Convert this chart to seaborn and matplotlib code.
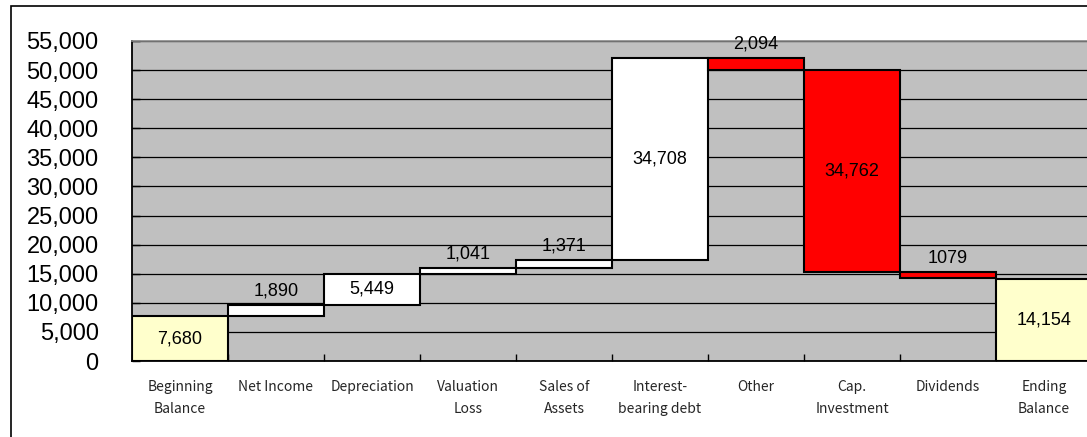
import matplotlib
matplotlib.use("Agg")
import matplotlib.pyplot as plt
from matplotlib.patches import Rectangle
from matplotlib.ticker import FuncFormatter, MultipleLocator
import numpy as np
import pandas as pd
import seaborn as sns

# Cash flow bridge items
categories = ["Beginning\nBalance", "Net Income", "Depreciation", "Valuation\nLoss",
              "Sales of\nAssets", "Interest-\nbearing debt", "Other", "Cap.\nInvestment",
              "Dividends", "Ending\nBalance"]
# signed changes; totals are the first and last entries
changes = [7680, 1890, 5449, 1041, 1371, 34708, -2094, -34762, -1079, 14154]
kinds = ["total", "up", "up", "up", "up", "up", "down", "down", "down", "total"]
value_formats = [",", ",", ",", ",", ",", ",", ",", ",", "", ","]
label_inside = [True, False, True, False, False, True, False, True, False, True]
y_ticks = list(range(0, 55001, 5000))

kind_colors = {"total": "#FFFFCC", "up": "#FFFFFF", "down": "#FF0000"}

# running position of each bar
bottoms, tops = [], []
level = 0
for v, k in zip(changes, kinds):
    if k == "total":
        b, t = 0, v
        level = v
    else:
        b, t = level, level + v
        level = t
    bottoms.append(min(b, t))
    tops.append(max(b, t))

df = pd.DataFrame({"item": categories, "top": tops})

sns.set_theme(style="white")
plt.rcParams["font.family"] = ["Liberation Sans", "DejaVu Sans"]

W, H = 1087, 437
fig = plt.figure(figsize=(W / 100, H / 100), dpi=100)
ax = fig.add_axes([132 / W, (H - 361) / H, 960 / W, 320 / H])
ax.set_facecolor("#C0C0C0")

sns.barplot(data=df, x="item", y="top", hue="item",
            palette=[kind_colors[k] for k in kinds], legend=False,
            width=1.0, edgecolor="black", linewidth=1.5, saturation=1, ax=ax, zorder=3)

# lift each bar onto its running base
for patch, b, t in zip(ax.patches, bottoms, tops):
    patch.set_y(b)
    patch.set_height(t - b)

ax.set_xlim(-0.5, len(categories) - 0.5)
ax.set_ylim(0, 55000)
ax.set_yticks(y_ticks)
ax.yaxis.set_major_formatter(FuncFormatter(lambda v, p: f"{int(v):,}"))
ax.yaxis.grid(True, color="black", linewidth=0.9, zorder=1)
ax.set_axisbelow(True)

ax.tick_params(axis="y", direction="in", length=6, width=1, left=True,
               labelsize=17, pad=24, colors="black")
ax.tick_params(axis="x", which="major", length=0, pad=14, labelsize=10)
ax.xaxis.set_minor_locator(MultipleLocator(1, offset=0.5))
ax.tick_params(axis="x", which="minor", direction="in", length=5, width=1,
               bottom=True, color="black")
for lab in ax.get_xticklabels():
    lab.set_linespacing(1.7)
    lab.set_family(["Noto Sans CJK JP", "DejaVu Sans"])
ax.set_xlabel("")
ax.set_ylabel("")

for side in ["left", "bottom"]:
    ax.spines[side].set_color("black")
    ax.spines[side].set_linewidth(1.3)
ax.spines["top"].set_color("#888888")
ax.spines["top"].set_linewidth(1.2)
ax.spines["right"].set_visible(False)

# value labels
for i, (v, fmt, inside) in enumerate(zip(changes, value_formats, label_inside)):
    text = format(abs(v), fmt)
    if inside:
        ax.text(i, (bottoms[i] + tops[i]) / 2, text, ha="center", va="center",
                fontsize=13, color="black", zorder=5)
    else:
        ax.annotate(text, (i, tops[i]), xytext=(0, 10), textcoords="offset points",
                    ha="center", va="center", fontsize=13, color="black", zorder=5)

# outer chart frame
fig.add_artist(Rectangle((10.5 / W, -0.1), 1.2, (H - 5.5) / H + 0.1,
                         transform=fig.transFigure, fill=False,
                         edgecolor="black", linewidth=1.2))

fig.savefig("out.png", dpi=100, facecolor="white")
